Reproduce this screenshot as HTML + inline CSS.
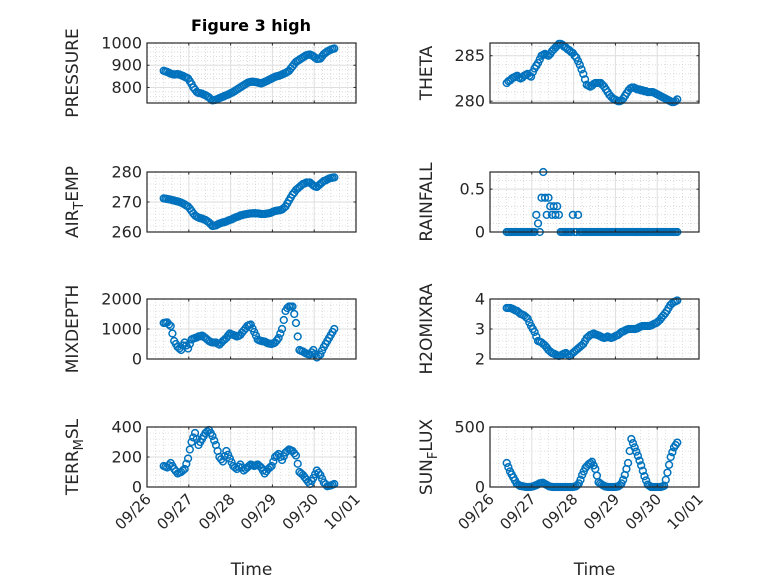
<!DOCTYPE html>
<html><head><meta charset="utf-8"><style>
html,body{margin:0;padding:0;background:#fff}
svg{display:block;font-family:"DejaVu Sans","Liberation Sans",sans-serif}
</style></head><body>
<svg id="fig" width="778" height="583" viewBox="0 0 778 583" xmlns="http://www.w3.org/2000/svg">
<rect width="778" height="583" fill="#fff"/>
<text x="251" y="31" font-size="16" font-weight="bold" text-anchor="middle" fill="#000">Figure 3 high</text>
</svg>
<script>
const dayLabels = ["09/26","09/27","09/28","09/29","09/30","10/01"];
const tStart = 0.4, tEnd = 4.48;
const pressure = [875,872,870,866,862,860,858,859,860,858,855,852,848,844,840,828,815,800,790,780,775,774,772,768,765,760,755,748,742,743,745,748,752,755,758,762,765,768,772,776,780,785,790,795,800,805,810,815,820,823,825,826,825,824,822,820,818,821,825,828,832,836,840,844,848,850,852,855,858,862,865,870,875,885,895,905,915,920,925,930,935,940,945,947,948,945,940,934,928,929,930,940,950,956,962,966,970,973,975];
const airTemp = [271.2,271.1,271,270.9,270.8,270.6,270.5,270.3,270.2,270,269.8,269.5,269.2,268.8,268.5,267.8,267,266.2,265.5,265.1,264.8,264.6,264.5,264.2,264,263.6,263.2,262.6,262,262.1,262.2,262.5,262.8,263,263.2,263.3,263.5,263.8,264,264.2,264.5,264.8,265,265.2,265.5,265.6,265.8,265.9,266,266.1,266.2,266.2,266.3,266.2,266.2,266.1,266,266,266,266.1,266.2,266.3,266.5,266.8,267,267.1,267.2,267.3,267.5,268,268.5,269.5,270.5,271.5,272.5,273.2,274,274.5,275,275.5,276,276.2,276.5,276.5,276.5,276,275.5,275.2,275,275.5,276,276.5,277,277.2,277.5,277.8,278,278.1,278.2];
const mixDepth = [1200,1210,1220,1150,1100,850,600,500,400,350,300,450,550,450,350,500,650,680,700,720,750,760,780,740,700,650,600,570,550,550,550,510,480,540,600,650,700,780,850,820,800,780,750,770,800,880,950,1020,1100,1130,1150,1020,900,780,650,620,600,590,580,550,520,510,500,520,550,620,700,850,1000,1300,1600,1700,1750,1750,1750,1500,1200,750,300,270,250,210,180,160,150,220,300,170,50,100,150,280,400,500,600,700,800,900,1000];
const terrMsl = [140,135,130,145,160,140,120,105,90,95,100,110,120,155,190,250,300,330,360,320,280,300,320,340,360,370,380,360,340,310,280,240,200,185,170,205,240,215,190,165,140,130,120,135,150,130,110,120,130,140,150,145,140,145,150,140,130,110,90,105,120,130,140,170,200,210,220,200,180,205,230,240,250,245,240,225,210,155,100,90,80,65,50,35,20,40,60,85,110,95,80,55,30,18,5,8,10,15,20];
const theta = [282.0,282.2,282.3,282.5,282.6,282.7,282.8,282.6,282.5,282.6,282.8,282.9,283.0,282.8,282.7,283.2,283.6,283.9,284.2,284.6,285.0,285.1,285.2,285.1,285.0,285.2,285.5,285.7,285.9,286.1,286.3,286.3,286.2,286.0,285.9,285.7,285.6,285.4,285.3,285.0,284.8,284.4,284.0,283.5,283.0,282.4,281.8,281.7,281.6,281.7,281.9,282.0,282.0,282.0,282.0,281.8,281.6,281.3,281.0,280.7,280.5,280.3,280.2,280.1,280.0,280.0,280.1,280.3,280.6,280.9,281.2,281.4,281.5,281.5,281.4,281.3,281.3,281.2,281.2,281.1,281.1,281.0,281.0,281.0,281.0,280.9,280.8,280.7,280.6,280.5,280.4,280.3,280.2,280.1,280.0,279.9,279.9,280.0,280.2];
const rainfall = [0,0,0,0,0,0,0,0,0,0,0,0,0,0,0,0,0,0.2,0.1,0,0.4,0.7,0.4,0.2,0.4,0.3,0.2,0.3,0.2,0.3,0.2,0,0,0,0,0,0,0,0.2,0,0,0.2,0,0,0,0,0,0,0,0,0,0,0,0,0,0,0,0,0,0,0,0,0,0,0,0,0,0,0,0,0,0,0,0,0,0,0,0,0,0,0,0,0,0,0,0,0,0,0,0,0,0,0,0,0,0,0,0,0];
const h2oMix = [3.7,3.7,3.7,3.68,3.65,3.62,3.6,3.55,3.5,3.48,3.45,3.4,3.35,3.22,3.1,3.0,2.9,2.75,2.6,2.58,2.55,2.5,2.45,2.38,2.3,2.25,2.2,2.18,2.15,2.12,2.1,2.12,2.15,2.18,2.2,2.15,2.1,2.15,2.2,2.25,2.3,2.35,2.4,2.45,2.5,2.6,2.7,2.75,2.8,2.82,2.85,2.82,2.8,2.78,2.75,2.72,2.7,2.72,2.75,2.72,2.7,2.72,2.75,2.78,2.8,2.85,2.9,2.92,2.95,2.98,3.0,3.0,3.0,3.0,3.0,3.02,3.05,3.08,3.1,3.1,3.1,3.1,3.1,3.12,3.15,3.18,3.2,3.25,3.3,3.38,3.45,3.52,3.6,3.7,3.8,3.85,3.9,3.92,3.95];
const sunFlux = [200,165,130,105,80,55,30,20,10,8,5,2,0,0,0,2,5,10,15,22,30,32,35,28,20,12,5,2,0,0,0,0,0,0,0,0,0,0,0,0,0,2,5,15,30,60,100,130,160,175,190,200,210,180,150,95,40,30,20,12,5,2,0,0,0,0,0,2,5,15,30,60,100,150,200,300,400,365,330,295,260,220,180,135,90,55,20,10,0,0,0,0,0,0,0,5,10,60,120,185,250,290,330,350,370];
const pTicks = [800,900,1000], aTicks=[260,270,280], mTicks=[0,1000,2000], tTicks=[0,200,400];
const thTicks=[280,285], rTicks=[0,0.5], hTicks=[2,3,4], sTicks=[0,500];

const NS="http://www.w3.org/2000/svg";
const svg=document.getElementById('fig');
function el(tag,attrs,parent){const e=document.createElementNS(NS,tag);for(const k in attrs)e.setAttribute(k,attrs[k]);(parent||svg).appendChild(e);return e;}

const panels=[
 {name:'pressure',x0:147,y0:43,data:pressure,ticks:pTicks,lim:[730,1000],label:['PRESSURE'],bottom:false},
 {name:'air-temp',x0:147,y0:172,data:airTemp,ticks:aTicks,lim:[260,280],label:['AIR','T','EMP'],bottom:false},
 {name:'mixdepth',x0:147,y0:299,data:mixDepth,ticks:mTicks,lim:[0,2000],label:['MIXDEPTH'],bottom:false},
 {name:'terr-msl',x0:147,y0:427,data:terrMsl,ticks:tTicks,lim:[0,400],label:['TERR','M','SL'],bottom:true},
 {name:'theta',x0:490,y0:43,data:theta,ticks:thTicks,lim:[279.8,286.4],label:['THETA'],bottom:false},
 {name:'rainfall',x0:490,y0:172,data:rainfall,ticks:rTicks,lim:[0,0.7],label:['RAINFALL'],bottom:false},
 {name:'h2omixra',x0:490,y0:299,data:h2oMix,ticks:hTicks,lim:[2,4],label:['H2OMIXRA'],bottom:false},
 {name:'sun-flux',x0:490,y0:427,data:sunFlux,ticks:sTicks,lim:[0,500],label:['SUN','F','LUX'],bottom:true}
];
const W=209,H=60,dayW=W/5;

panels.forEach(p=>{
  const g=el('g',{});
  
  
  const xs=d=>p.x0+d*dayW;
  const ys=v=>p.y0+H-(v-p.lim[0])/(p.lim[1]-p.lim[0])*H;
  el('rect',{x:p.x0,y:p.y0,width:W,height:H,fill:'#fff'},g);
  for(let d=0;d<5;d++)for(let k=1;k<5;k++){const x=xs(d+k/5);el('line',{x1:x,x2:x,y1:p.y0,y2:p.y0+H,stroke:'#c8c8c8','stroke-width':0.6,'stroke-dasharray':'1 2'},g);}
  const tstep=p.ticks.length>1?p.ticks[1]-p.ticks[0]:1;
  for(let v=p.ticks[0]-tstep;v<=p.lim[1]+1e-9;v+=tstep/5){if(v<p.lim[0]-1e-9)continue;const y=ys(v);el('line',{x1:p.x0,x2:p.x0+W,y1:y,y2:y,stroke:'#c8c8c8','stroke-width':0.6,'stroke-dasharray':'1 2'},g);}
  dayLabels.forEach((l,i)=>{const x=xs(i);el('line',{x1:x,x2:x,y1:p.y0,y2:p.y0+H,stroke:'#dedede','stroke-width':1},g);});
  p.ticks.forEach(v=>{const y=ys(v);el('line',{x1:p.x0,x2:p.x0+W,y1:y,y2:y,stroke:'#dedede','stroke-width':1},g);});
  const n=p.data.length, step=(tEnd-tStart)/(n-1);
  p.data.forEach((v,i)=>{
    const c=el('circle',{cx:xs(tStart+i*step),cy:ys(v),r:3.4,fill:'none',stroke:'#0072BD','stroke-width':1.5},g);
    
    
  });
  el('rect',{x:p.x0,y:p.y0,width:W,height:H,fill:'none',stroke:'#262626','stroke-width':1.2},g);
  dayLabels.forEach((l,i)=>{const x=xs(i);el('line',{x1:x,x2:x,y1:p.y0+H,y2:p.y0+H-2.5,stroke:'#262626'},g);el('line',{x1:x,x2:x,y1:p.y0,y2:p.y0+2.5,stroke:'#262626'},g);
    if(p.bottom){const t=el('text',{x:0,y:0,'font-size':15,fill:'#262626','text-anchor':'end',transform:`translate(${x+5},${p.y0+H+13}) rotate(-45)`},g);t.textContent=l;
      
      }
  });
  p.ticks.forEach(v=>{const y=ys(v);el('line',{x1:p.x0,x2:p.x0+2.5,y1:y,y2:y,stroke:'#262626'},g);el('line',{x1:p.x0+W,x2:p.x0+W-2.5,y1:y,y2:y,stroke:'#262626'},g);
    const t=el('text',{x:p.x0-5,y:y+5.5,'font-size':16,fill:'#262626','text-anchor':'end'},g);t.textContent=String(v);
    
    
  });
  const lx=p.x0-(p.x0===147?69:58);
  const t=el('text',{'font-size':17,fill:'#262626','text-anchor':'middle',transform:`translate(${lx},${p.y0+H/2}) rotate(-90)`},g);
  
  
  if(p.label.length===1)t.textContent=p.label[0];
  else{const a=el('tspan',{},t);a.textContent=p.label[0];const b=el('tspan',{'font-size':13,dy:5},t);b.textContent=p.label[1];const c=el('tspan',{dy:-5},t);c.textContent=p.label[2];}
  if(p.bottom){const tt=el('text',{x:p.x0+W/2,y:575,'font-size':17,fill:'#262626','text-anchor':'middle'},g);tt.textContent='Time';
    
    }
});
</script>
</body></html>
